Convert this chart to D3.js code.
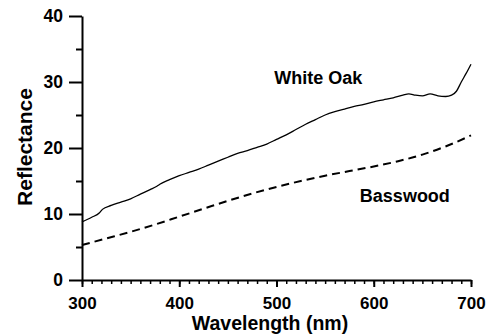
<!DOCTYPE html>
<html>
<head>
<meta charset="utf-8">
<script src="https://cdn.jsdelivr.net/npm/d3@7/dist/d3.min.js"></script>
<style>
  html, body { margin: 0; padding: 0; background: #fff; }
  svg { display: block; }
  text { font-family: "Liberation Sans", Arial, Helvetica, sans-serif; font-weight: bold; fill: #000; }
</style>
</head>
<body>
<svg id="chart" width="490" height="335"></svg>
<script>
// ---- data ----
const whiteOakNm = [300,310,318,321,330,340,350,360,370,377,380,390,400,410,420,430,440,450,460,470,480,490,500,510,520,530,540,550,560,570,580,590,600,610,620,630,636,643,650,658,666,674,680,685,690,695,700];
const whiteOakR  = [8.8,9.5,10.2,10.7,11.3,11.8,12.3,13.0,13.7,14.2,14.5,15.2,15.8,16.3,16.8,17.4,18.0,18.6,19.2,19.6,20.1,20.6,21.3,22.0,22.8,23.6,24.3,25.0,25.5,25.9,26.3,26.6,27.0,27.3,27.6,28.0,28.2,28.0,27.9,28.2,27.9,27.8,28.0,28.6,30.0,31.3,32.7];
const basswoodNm = [300,325,350,375,400,425,450,475,500,525,550,575,600,625,650,675,700];
const basswoodR  = [5.3,6.3,7.3,8.4,9.6,10.8,12.0,13.1,14.1,15.0,15.8,16.5,17.2,18.0,19.0,20.3,21.9];
const xTicks = [300,400,500,600,700];
const yTicks = [0,10,20,30,40];
const seriesNames = ["White Oak","Basswood"];
const labelNm = [543, 632];
const labelR  = [29.65, 11.86];
const xTitle = "Wavelength (nm)";
const yTitle = "Reflectance";

// ---- layout ----
const svg = d3.select("#chart");
const margin = {left: 82, right: 19, top: 16, bottom: 55};
const W = 490, H = 335;
const x = d3.scaleLinear().domain([300,700]).range([margin.left, W - margin.right]);
const y = d3.scaleLinear().domain([0,40]).range([H - margin.bottom, margin.top]);

// minor ticks
const xMinor = d3.range(300, 701, 10);
const yMinor = d3.range(5, 40, 10);

// x axis
const gx = svg.append("g").attr("transform", `translate(0,${y(0)})`);
gx.append("g").call(d3.axisBottom(x).tickValues(xMinor).tickSize(4).tickFormat(""))
  .call(g => g.select(".domain").remove())
  .selectAll("line").attr("stroke-width", 1.5);
gx.append("g").call(d3.axisBottom(x).tickValues(xTicks).tickSize(7).tickSizeOuter(0).tickPadding(10))
  .call(g => g.select(".domain").attr("stroke-width", 2))
  .call(g => g.selectAll("line").attr("stroke-width", 2))
  .call(g => g.selectAll("text").attr("font-size", 17).attr("font-family", null).attr("fill", "#000"));

// y axis
const gy = svg.append("g").attr("transform", `translate(${x(300)},0)`);
gy.append("g").call(d3.axisLeft(y).tickValues(yMinor).tickSize(6).tickFormat(""))
  .call(g => g.select(".domain").remove())
  .selectAll("line").attr("stroke-width", 2);
gy.append("g").call(d3.axisLeft(y).tickValues(yTicks).tickSize(13).tickSizeOuter(0).tickPadding(6))
  .call(g => g.select(".domain").attr("stroke-width", 2))
  .call(g => g.selectAll("line").attr("stroke-width", 2))
  .call(g => g.selectAll("text").attr("font-size", 17.5).attr("font-family", null).attr("fill", "#000"));
svg.selectAll(".domain").attr("stroke", "#000");
svg.selectAll(".tick line").attr("stroke", "#000");

// lines
const line = d3.line().x(d => x(d[0])).y(d => y(d[1])).curve(d3.curveMonotoneX);
const oak = whiteOakNm.map((v,i) => [v, whiteOakR[i]]);
const bass = basswoodNm.map((v,i) => [v, basswoodR[i]]);
svg.append("path").datum(oak).attr("d", line)
  .attr("fill", "none").attr("stroke", "#000").attr("stroke-width", 1.3);
svg.append("path").datum(bass).attr("d", line)
  .attr("fill", "none").attr("stroke", "#000").attr("stroke-width", 2).attr("stroke-dasharray", "8,5");

// series labels
svg.selectAll("text.series").data(seriesNames).join("text").attr("class","series")
  .attr("x", (d,i) => x(labelNm[i])).attr("y", (d,i) => y(labelR[i]))
  .attr("text-anchor", "middle").attr("font-size", 18).text(d => d);

// axis titles
svg.append("text").attr("x", 270).attr("y", 330).attr("text-anchor", "middle")
  .attr("font-size", 19.5).text(xTitle);
svg.append("text").attr("transform", `translate(32,${147}) rotate(-90)`).attr("text-anchor", "middle")
  .attr("font-size", 21).text(yTitle);
</script>
</body>
</html>
